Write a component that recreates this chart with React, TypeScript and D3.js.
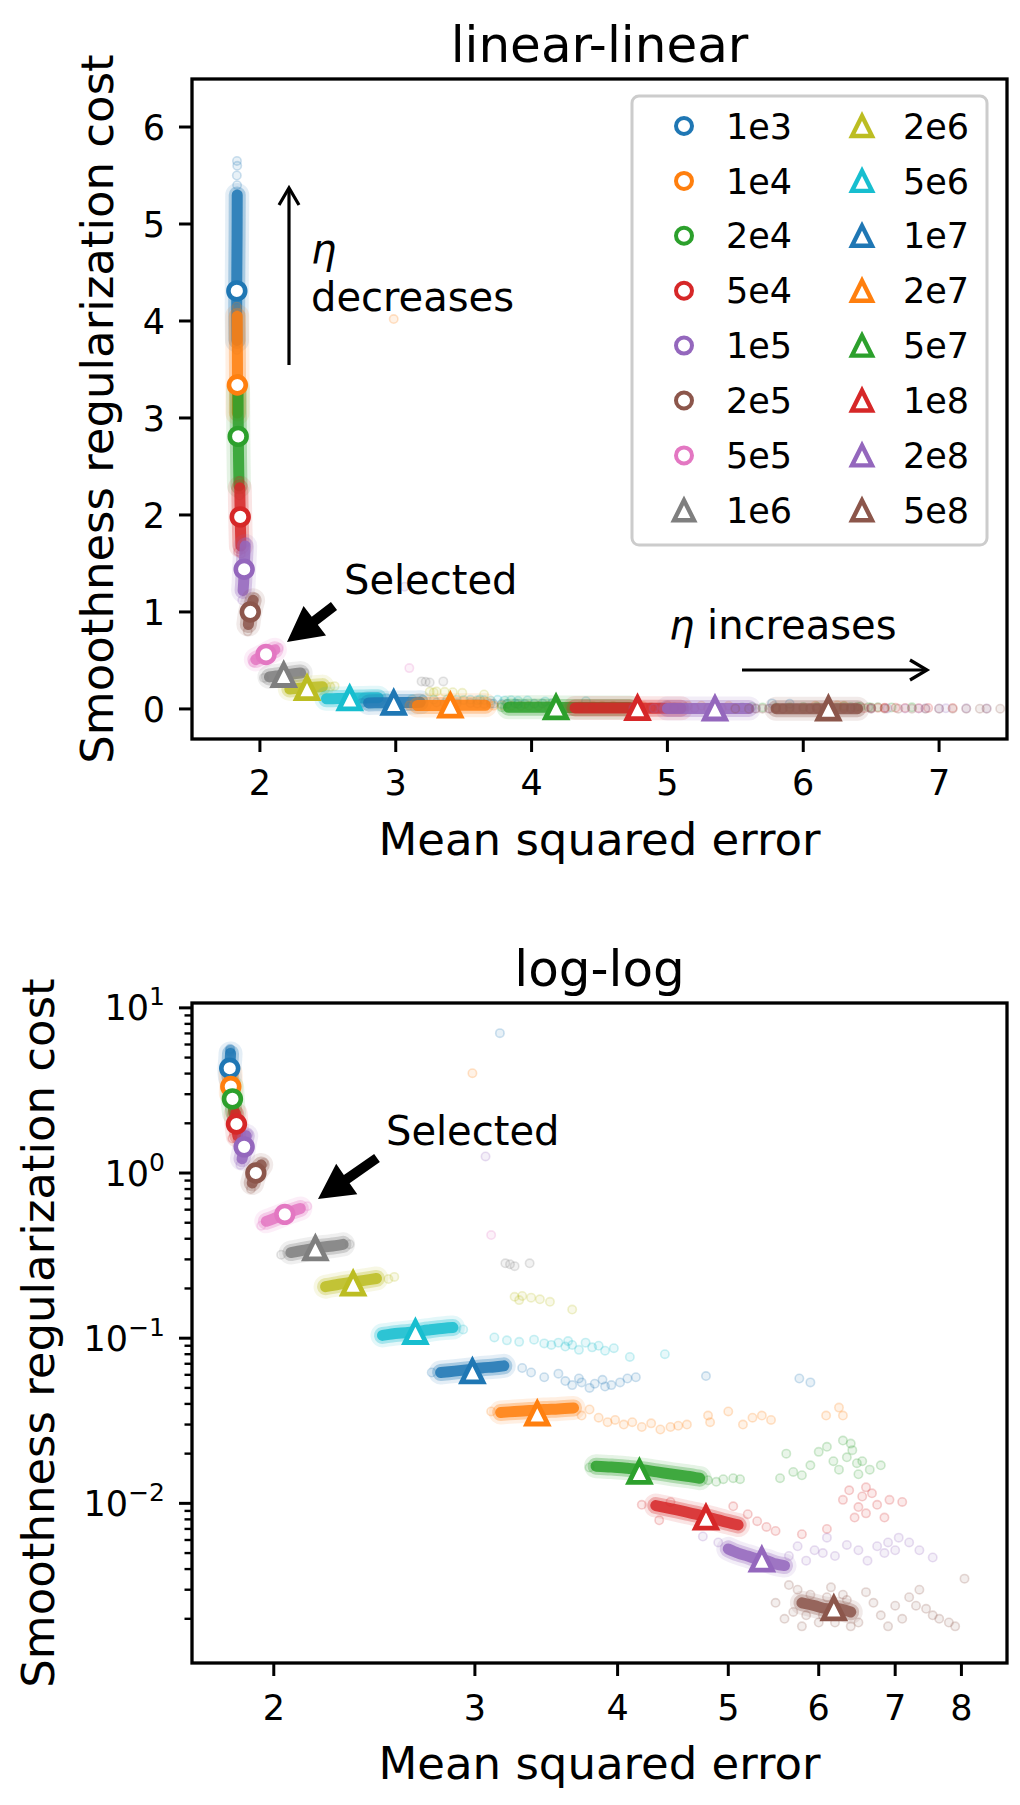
import * as d3 from "d3"
import React from "react"

const FONT = "'DejaVu Sans', 'Liberation Sans', sans-serif"
const W = 1020
const H = 1805

// ---- data ----
const etaLabels = ["1e3", "1e4", "2e4", "5e4", "1e5", "2e5", "5e5", "1e6", "2e6", "5e6", "1e7", "2e7", "5e7", "1e8", "2e8", "5e8"]
const seriesColors = ["#1f77b4", "#ff7f0e", "#2ca02c", "#d62728", "#9467bd", "#8c564b", "#e377c2", "#7f7f7f", "#bcbd22", "#17becf", "#1f77b4", "#ff7f0e", "#2ca02c", "#d62728", "#9467bd", "#8c564b"]
const markerKind = ["o", "o", "o", "o", "o", "o", "o", "^", "^", "^", "^", "^", "^", "^", "^", "^"]

// median point of each run (MSE, smoothness cost)
const markerMSE = [1.83, 1.834, 1.84, 1.855, 1.884, 1.929, 2.045, 2.175, 2.347, 2.661, 2.985, 3.402, 4.18, 4.78, 5.35, 6.185]
const markerCost = [4.31, 3.34, 2.81, 1.98, 1.44, 1.0, 0.562, 0.35, 0.214, 0.109, 0.063, 0.035, 0.0155, 0.0082, 0.00456, 0.00231]

// dense part of each cloud
const coreClouds: [number, number][][] = [
  [[1.831, 3.8], [1.829, 4.1], [1.83, 4.5], [1.832, 4.9], [1.833, 5.3]],
  [[1.834, 3.05], [1.835, 3.4], [1.834, 3.7], [1.833, 4.05]],
  [[1.846, 2.3], [1.843, 2.55], [1.841, 2.8], [1.84, 3.05], [1.839, 3.3]],
  [[1.86, 1.68], [1.857, 1.85], [1.855, 2.0], [1.853, 2.15], [1.852, 2.28]],
  [[1.876, 1.22], [1.88, 1.3], [1.884, 1.44], [1.888, 1.57], [1.892, 1.68]],
  [[1.915, 0.87], [1.922, 0.95], [1.93, 1.01], [1.94, 1.07], [1.95, 1.12]],
  [[1.97, 0.51], [2.0, 0.53], [2.04, 0.56], [2.08, 0.59], [2.11, 0.61]],
  [[2.07, 0.33], [2.12, 0.34], [2.18, 0.352], [2.24, 0.36], [2.3, 0.37]],
  [[2.22, 0.205], [2.28, 0.212], [2.34, 0.218], [2.4, 0.224], [2.46, 0.23]],
  [[2.49, 0.104], [2.57, 0.107], [2.65, 0.109], [2.73, 0.112], [2.82, 0.115], [2.87, 0.116]],
  [[2.8, 0.062], [2.88, 0.0632], [2.96, 0.0645], [3.04, 0.066], [3.12, 0.067], [3.18, 0.068]],
  [[3.16, 0.0355], [3.25, 0.036], [3.35, 0.0365], [3.45, 0.037], [3.55, 0.0373], [3.66, 0.0378]],
  [[3.83, 0.0168], [3.95, 0.0166], [4.08, 0.0163], [4.2, 0.016], [4.33, 0.0155], [4.47, 0.015], [4.6, 0.0146], [4.72, 0.0142]],
  [[4.32, 0.0097], [4.45, 0.0093], [4.58, 0.0089], [4.72, 0.0085], [4.85, 0.0081], [4.98, 0.0077], [5.1, 0.0074]],
  [[5.0, 0.0053], [5.1, 0.005], [5.2, 0.0048], [5.3, 0.0046], [5.4, 0.0045], [5.5, 0.0043], [5.6, 0.0042]],
  [[5.8, 0.0025], [5.95, 0.0024], [6.1, 0.0023], [6.25, 0.0023], [6.4, 0.0022]],
]

// sparse points around each cloud
const spreadClouds: [number, number][][] = [
  [[1.832, 5.4], [1.83, 5.5], [1.833, 5.6], [1.831, 5.65], [1.83, 3.7], [3.155, 7.03]],
  [[2.985, 4.02], [1.83, 4.15]],
  [[1.84, 3.4], [1.85, 2.2]],
  [[1.85, 2.35], [1.86, 1.6], [1.84, 1.62]],
  [[1.87, 1.12], [3.065, 1.26], [1.9, 1.72]],
  [[1.91, 0.8], [1.96, 1.15]],
  [[1.95, 0.48], [3.1, 0.421], [2.14, 0.63]],
  [[2.03, 0.32], [2.33, 0.37], [3.19, 0.284], [3.25, 0.273], [3.35, 0.284], [3.22, 0.28]],
  [[2.52, 0.228], [2.55, 0.235], [3.25, 0.178], [3.3, 0.18], [3.36, 0.176], [3.42, 0.172], [3.49, 0.166], [3.65, 0.149], [3.28, 0.17]],
  [[2.93, 0.113], [3.12, 0.101], [3.2, 0.097], [3.28, 0.095], [3.38, 0.098], [3.45, 0.093], [3.5, 0.091], [3.55, 0.094], [3.6, 0.089], [3.65, 0.091], [3.7, 0.085], [3.75, 0.094], [3.8, 0.088], [3.85, 0.09], [3.97, 0.087], [4.1, 0.077], [4.4, 0.08], [3.62, 0.096], [3.9, 0.084]],
  [[2.75, 0.062], [3.3, 0.066], [3.36, 0.062], [3.45, 0.058], [3.55, 0.061], [3.6, 0.055], [3.65, 0.052], [3.72, 0.054], [3.78, 0.05], [3.82, 0.053], [3.88, 0.056], [3.95, 0.052], [4.02, 0.054], [4.08, 0.057], [4.15, 0.058], [4.78, 0.059], [5.77, 0.057], [5.9, 0.054], [3.7, 0.057], [3.9, 0.051]],
  [[3.1, 0.036], [3.72, 0.034], [3.78, 0.037], [3.85, 0.033], [3.92, 0.031], [3.98, 0.032], [4.05, 0.03], [4.12, 0.031], [4.2, 0.029], [4.28, 0.0305], [4.36, 0.028], [4.45, 0.029], [4.52, 0.0295], [4.6, 0.03], [4.8, 0.034], [4.82, 0.031], [5.0, 0.036], [5.15, 0.03], [5.25, 0.033], [5.35, 0.034], [5.45, 0.032], [6.09, 0.034], [6.25, 0.038], [6.3, 0.034]],
  [[3.78, 0.0165], [4.8, 0.0138], [4.88, 0.0135], [4.95, 0.014], [5.05, 0.0142], [5.12, 0.014], [5.55, 0.0142], [5.62, 0.02], [5.7, 0.0155], [5.8, 0.0148], [5.9, 0.017], [6.0, 0.0205], [6.1, 0.022], [6.18, 0.018], [6.25, 0.016], [6.3, 0.024], [6.35, 0.019], [6.42, 0.021], [6.48, 0.0175], [6.55, 0.018], [6.65, 0.016], [6.8, 0.017], [6.4, 0.023], [6.5, 0.015]],
  [[4.2, 0.0098], [4.35, 0.0079], [4.45, 0.0102], [5.05, 0.0096], [5.2, 0.0086], [5.3, 0.0078], [5.4, 0.0072], [5.5, 0.0068], [5.8, 0.0065], [6.1, 0.007], [6.3, 0.0105], [6.38, 0.012], [6.45, 0.0082], [6.5, 0.0095], [6.55, 0.011], [6.6, 0.0087], [6.68, 0.0115], [6.75, 0.0098], [6.85, 0.0082], [6.92, 0.0105], [7.1, 0.0102], [6.6, 0.0125]],
  [[4.75, 0.0063], [4.9, 0.0058], [5.65, 0.0048], [5.75, 0.0055], [5.85, 0.0045], [5.95, 0.0052], [6.05, 0.005], [6.2, 0.0048], [6.35, 0.0056], [6.5, 0.0052], [6.62, 0.0045], [6.75, 0.0055], [6.85, 0.005], [7.0, 0.0052], [7.05, 0.0062], [7.2, 0.0058], [7.35, 0.0052], [7.55, 0.0047], [6.9, 0.0058], [6.1, 0.0062]],
  [[5.5, 0.0025], [5.6, 0.002], [5.65, 0.0032], [5.8, 0.0018], [6.0, 0.0019], [6.3, 0.0028], [6.5, 0.0019], [6.6, 0.0029], [6.7, 0.0025], [6.8, 0.0021], [6.9, 0.0018], [7.0, 0.0024], [7.1, 0.002], [7.2, 0.0027], [7.35, 0.003], [7.45, 0.0023], [7.55, 0.0021], [7.65, 0.002], [7.8, 0.0019], [7.9, 0.0018], [8.05, 0.0035], [6.4, 0.0018], [7.3, 0.0024], [6.15, 0.0031], [5.75, 0.003], [5.9, 0.0028], [6.05, 0.0021], [6.2, 0.0019], [5.85, 0.0021], [6.35, 0.0026], [6.1, 0.0027], [5.7, 0.0022]],
]

const linTicksX = [2, 3, 4, 5, 6, 7]
const linTicksY = [0, 1, 2, 3, 4, 5, 6]
const logTicksX = [2, 3, 4, 5, 6, 7, 8]
const logExpY = [-2, -1, 0, 1]

// ---- layout ----
const topBox = { left: 192, right: 1007, top: 79, bottom: 739 }
const botBox = { left: 192, right: 1007, top: 1003, bottom: 1663 }

const xLin = d3.scaleLinear().domain([1.5, 7.5]).range([topBox.left, topBox.right])
const yLin = d3.scaleLinear().domain([-0.31, 6.495]).range([topBox.bottom, topBox.top])
const xLog = d3.scaleLog().domain([1.696, 8.77]).range([botBox.left, botBox.right])
const yLog = d3.scaleLog().domain([1.08e-3, 10.7]).range([botBox.bottom, botBox.top])

const TICK = 35
const LABEL = 45
const TITLE = 50
const NOTE = 40

function triPath(cx: number, cy: number, h: number) {
  return `M${cx},${cy - h}L${cx - h},${cy + h}L${cx + h},${cy + h}Z`
}

function fatArrow(tail: number[], tip: number[], sw = 10, hw = 37, hl = 35) {
  const dx = tip[0] - tail[0]
  const dy = tip[1] - tail[1]
  const len = Math.hypot(dx, dy)
  const ux = dx / len, uy = dy / len
  const nx = -uy, ny = ux
  const bx = tip[0] - ux * hl, by = tip[1] - uy * hl
  const p = [
    [tail[0] + nx * sw / 2, tail[1] + ny * sw / 2],
    [bx + nx * sw / 2, by + ny * sw / 2],
    [bx + nx * hw / 2, by + ny * hw / 2],
    tip,
    [bx - nx * hw / 2, by - ny * hw / 2],
    [bx - nx * sw / 2, by - ny * sw / 2],
    [tail[0] - nx * sw / 2, tail[1] - ny * sw / 2],
  ]
  return "M" + p.map((q) => q.join(",")).join("L") + "Z"
}

function LineArrow({ from, to }: { from: number[]; to: number[] }) {
  const dx = to[0] - from[0]
  const dy = to[1] - from[1]
  const len = Math.hypot(dx, dy)
  const ux = dx / len, uy = dy / len
  const nx = -uy, ny = ux
  const hl = 17, hw = 10
  const b = [to[0] - ux * hl, to[1] - uy * hl]
  return (
    <g stroke="black" strokeWidth={3.2} fill="none" strokeLinecap="butt" strokeLinejoin="miter">
      <line x1={from[0]} y1={from[1]} x2={to[0]} y2={to[1]} />
      <polyline points={`${b[0] + nx * hw},${b[1] + ny * hw} ${to[0]},${to[1]} ${b[0] - nx * hw},${b[1] - ny * hw}`} />
    </g>
  )
}

function Clouds({ xs, ys }: { xs: (v: number) => number; ys: (v: number) => number }) {
  const line = d3
    .line<[number, number]>()
    .x((d) => xs(d[0]))
    .y((d) => ys(d[1]))
    .curve(d3.curveCatmullRom)
  return (
    <g>
      {etaLabels.map((lab, i) => {
        const c = seriesColors[i]
        const d = line(coreClouds[i]) || ""
        return (
          <g key={lab}>
            {spreadClouds[i].map(([m, s], j) => (
              <circle key={j} cx={xs(m)} cy={ys(s)} r={4.2} fill={c} fillOpacity={0.1} stroke={c} strokeOpacity={0.22} strokeWidth={1.6} />
            ))}
            <path d={d} fill="none" stroke={c} strokeOpacity={0.12} strokeWidth={24} strokeLinecap="round" strokeLinejoin="round" />
            <path d={d} fill="none" stroke={c} strokeOpacity={0.3} strokeWidth={17} strokeLinecap="round" strokeLinejoin="round" />
            <path d={d} fill="none" stroke={c} strokeOpacity={0.85} strokeWidth={11} strokeLinecap="round" strokeLinejoin="round" />
          </g>
        )
      })}
    </g>
  )
}

function Markers({ xs, ys }: { xs: (v: number) => number; ys: (v: number) => number }) {
  return (
    <g>
      {markerMSE.map((m, i) => {
        const cx = xs(m)
        const cy = ys(markerCost[i])
        const c = seriesColors[i]
        return markerKind[i] === "o" ? (
          <circle key={i} cx={cx} cy={cy} r={8.4} fill="white" stroke={c} strokeWidth={4.6} />
        ) : (
          <path key={i} d={triPath(cx, cy, 10.5)} fill="white" stroke={c} strokeWidth={4.8} strokeLinejoin="miter" />
        )
      })}
    </g>
  )
}

function Legend() {
  const x0 = 632, y0 = 96, w = 355, h = 449
  const rowY = (r: number) => 126 + r * 54.9
  return (
    <g>
      <rect x={x0} y={y0} width={w} height={h} rx={7} fill="white" fillOpacity={0.8} stroke="#cccccc" strokeWidth={3} />
      {etaLabels.map((lab, i) => {
        const col = i < 8 ? 0 : 1
        const r = i % 8
        const mx = col === 0 ? 684 : 862
        const tx = col === 0 ? 726 : 903
        const cy = rowY(r)
        const c = seriesColors[i]
        return (
          <g key={lab}>
            {markerKind[i] === "o" ? (
              <circle cx={mx} cy={cy} r={8} fill="white" stroke={c} strokeWidth={4} />
            ) : (
              <path d={triPath(mx, cy, 10)} fill="white" stroke={c} strokeWidth={4.4} />
            )}
            <text x={tx} y={cy + 12.6} fontSize={TICK}>
              {lab}
            </text>
          </g>
        )
      })}
    </g>
  )
}

function YLabel({ x, cy }: { x: number; cy: number }) {
  return (
    <text transform={`translate(${x},${cy}) rotate(-90)`} textAnchor="middle" fontSize={LABEL}>
      Smoothness regularization cost
    </text>
  )
}

function TopPanel() {
  const b = topBox
  return (
    <g>
      <defs>
        <clipPath id="clipTop">
          <rect x={b.left} y={b.top} width={b.right - b.left} height={b.bottom - b.top} />
        </clipPath>
      </defs>
      <g clipPath="url(#clipTop)">
        <Clouds xs={xLin} ys={yLin} />
        <Markers xs={xLin} ys={yLin} />
      </g>
      {/* annotations */}
      <LineArrow from={[289, 365]} to={[289, 188]} />
      <text x={311} y={263} fontSize={NOTE} fontStyle="italic">η</text>
      <text x={311} y={311} fontSize={NOTE}>decreases</text>
      <LineArrow from={[742, 670]} to={[927, 670]} />
      <text x={669} y={639} fontSize={NOTE}>
        <tspan fontStyle="italic">η</tspan> increases
      </text>
      <text x={344} y={594} fontSize={NOTE}>Selected</text>
      <path d={fatArrow([334, 606], [287, 642])} fill="black" />
      <Legend />
      {/* axes */}
      <rect x={b.left} y={b.top} width={b.right - b.left} height={b.bottom - b.top} fill="none" stroke="black" strokeWidth={3.3} />
      {linTicksX.map((t) => (
        <g key={t}>
          <line x1={xLin(t)} x2={xLin(t)} y1={b.bottom} y2={b.bottom + 13} stroke="black" strokeWidth={3} />
          <text x={xLin(t)} y={b.bottom + 56} textAnchor="middle" fontSize={TICK}>{t}</text>
        </g>
      ))}
      {linTicksY.map((t) => (
        <g key={t}>
          <line x1={b.left - 13} x2={b.left} y1={yLin(t)} y2={yLin(t)} stroke="black" strokeWidth={3} />
          <text x={b.left - 27} y={yLin(t) + 12.6} textAnchor="end" fontSize={TICK}>{t}</text>
        </g>
      ))}
      <text x={(b.left + b.right) / 2} y={b.top - 17} textAnchor="middle" fontSize={TITLE}>linear-linear</text>
      <text x={(b.left + b.right) / 2} y={b.bottom + 116} textAnchor="middle" fontSize={LABEL}>Mean squared error</text>
      <YLabel x={113} cy={(b.top + b.bottom) / 2} />
    </g>
  )
}

function BottomPanel() {
  const b = botBox
  const [lo, hi] = yLog.domain()
  const minorY: number[] = []
  for (let e = -3; e <= 1; e++) {
    for (let m = 2; m <= 9; m++) {
      const v = m * Math.pow(10, e)
      if (v >= lo && v <= hi) minorY.push(v)
    }
  }
  return (
    <g>
      <defs>
        <clipPath id="clipBot">
          <rect x={b.left} y={b.top} width={b.right - b.left} height={b.bottom - b.top} />
        </clipPath>
      </defs>
      <g clipPath="url(#clipBot)">
        <Clouds xs={xLog} ys={yLog} />
        <Markers xs={xLog} ys={yLog} />
      </g>
      <text x={386} y={1145} fontSize={NOTE}>Selected</text>
      <path d={fatArrow([377, 1158], [318, 1199])} fill="black" />
      <rect x={b.left} y={b.top} width={b.right - b.left} height={b.bottom - b.top} fill="none" stroke="black" strokeWidth={3.3} />
      {logTicksX.map((t) => (
        <g key={t}>
          <line x1={xLog(t)} x2={xLog(t)} y1={b.bottom} y2={b.bottom + 13} stroke="black" strokeWidth={3} />
          <text x={xLog(t)} y={b.bottom + 57} textAnchor="middle" fontSize={TICK}>{t}</text>
        </g>
      ))}
      {minorY.map((v) => (
        <line key={v} x1={b.left - 7.5} x2={b.left} y1={yLog(v)} y2={yLog(v)} stroke="black" strokeWidth={2.4} />
      ))}
      {logExpY.map((e) => {
        const yy = yLog(Math.pow(10, e))
        return (
          <g key={e}>
            <line x1={b.left - 13} x2={b.left} y1={yy} y2={yy} stroke="black" strokeWidth={3} />
            <text x={b.left - 27} y={yy + 12.6} textAnchor="end" fontSize={TICK}>
              10
              <tspan dy={-15} fontSize={25}>{e < 0 ? `\u2212${-e}` : `${e}`}</tspan>
            </text>
          </g>
        )
      })}
      <text x={(b.left + b.right) / 2} y={b.top - 17} textAnchor="middle" fontSize={TITLE}>log-log</text>
      <text x={(b.left + b.right) / 2} y={b.bottom + 116} textAnchor="middle" fontSize={LABEL}>Mean squared error</text>
      <YLabel x={54} cy={(b.top + b.bottom) / 2} />
    </g>
  )
}

export default function App() {
  return (
    <svg
      width={W}
      height={H}
      viewBox={`0 0 ${W} ${H}`}
      style={{ position: "absolute", left: 0, top: 0, background: "white" }}
      fontFamily={FONT}
    >
      <rect width={W} height={H} fill="white" />
      <TopPanel />
      <BottomPanel />
    </svg>
  )
}
